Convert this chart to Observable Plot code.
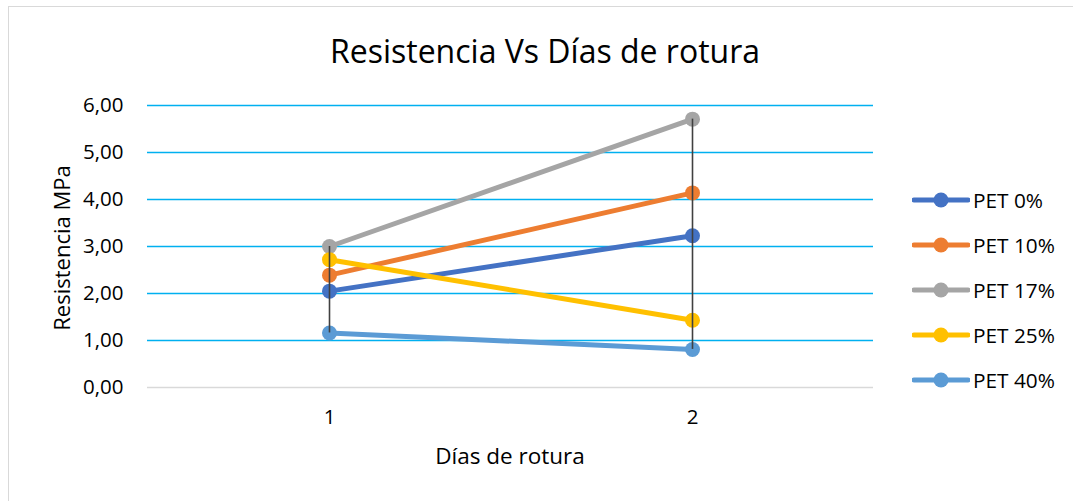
<!DOCTYPE html>
<html><head><meta charset="utf-8">
<script src="https://cdn.jsdelivr.net/npm/d3@7"></script>
<script src="https://cdn.jsdelivr.net/npm/@observablehq/plot@0.6"></script>
<style>
body{margin:0;background:#fff;}
#wrap{position:relative;width:1073px;height:501px;overflow:hidden;font-family:"Open Sans",sans-serif;color:#000;background:#fff}
#border{position:absolute;left:8px;top:6px;width:1100px;height:540px;border:1.5px solid #d9d9d9;box-sizing:border-box}
#plot{position:absolute;left:0;top:0}
.t{position:absolute;white-space:nowrap;line-height:1}
#title{font-size:32px;left:545px;top:35px;transform:translateX(-50%)}
#xlab{font-size:22.5px;left:510px;top:445px;transform:translateX(-50%)}
#ylab{font-size:22px;left:61px;top:248px;transform:translate(-50%,-50%) rotate(-90deg)}
.leg{position:absolute;left:912px;height:20px;display:flex;align-items:center;font-size:20.8px}
.leg svg{margin-right:3px}
</style></head>
<body>
<div id="wrap">
  <div id="border"></div>
  <div id="plot"></div>
  <div class="t" id="title">Resistencia Vs Días de rotura</div>
  <div class="t" id="xlab">Días de rotura</div>
  <div class="t" id="ylab">Resistencia MPa</div>
</div>
<script>
const days = [1, 2];
const seriesNames = ["PET 0%", "PET 10%", "PET 17%", "PET 25%", "PET 40%"];
const seriesColors = ["#4472C4", "#ED7D31", "#A5A5A5", "#FFC000", "#5B9BD5"];
const pet0 = [2.05, 3.23];
const pet10 = [2.39, 4.14];
const pet17 = [3.00, 5.71];
const pet25 = [2.72, 1.43];
const pet40 = [1.16, 0.81];
const yTicks = [0, 1, 2, 3, 4, 5, 6];

const allValues = [pet0, pet10, pet17, pet25, pet40];
const rows = [];
seriesNames.forEach((s, i) => days.forEach((d, j) => rows.push({serie: s, day: d, value: allValues[i][j]})));
const hiLow = days.map((d, j) => ({day: d, hi: d3.max(allValues, v => v[j]), lo: d3.min(allValues, v => v[j])}));
const fmt = v => v.toFixed(2).replace(".", ",");

const chart = Plot.plot({
  width: 1073, height: 501,
  marginLeft: 147, marginRight: 200, marginTop: 105, marginBottom: 114,
  style: {fontFamily: "'Open Sans', sans-serif", fontSize: "20.5px", background: "transparent", color: "#000"},
  x: {type: "point", domain: days, padding: 0.5},
  y: {domain: [0, 6]},
  color: {domain: seriesNames, range: seriesColors},
  marks: [
    Plot.ruleY(yTicks.filter(t => t > 0), {stroke: "#00B0F0", strokeWidth: 1.3}),
    Plot.ruleY([0], {stroke: "#d9d9d9", strokeWidth: 1.5}),
    Plot.axisY({ticks: yTicks, tickFormat: fmt, tickSize: 0, tickPadding: 24, label: null, fill: "#000"}),
    Plot.axisX({tickSize: 0, tickPadding: 22, label: null, fill: "#000"}),
    Plot.line(rows, {x: "day", y: "value", z: "serie", stroke: "serie", strokeWidth: 5, strokeLinecap: "round"}),
    Plot.dot(rows, {x: "day", y: "value", fill: "serie", r: 7.5, stroke: "none"}),
    Plot.ruleX(hiLow, {x: "day", y1: "hi", y2: "lo", stroke: "#404040", strokeWidth: 1.6})
  ]
});
document.getElementById("plot").appendChild(chart);

seriesNames.forEach((s, i) => {
  const el = document.createElement("div");
  el.className = "leg";
  el.style.top = (190 + i * 45) + "px";
  el.innerHTML = `<svg width="58" height="20"><line x1="2" x2="56" y1="10" y2="10" stroke="${seriesColors[i]}" stroke-width="5" stroke-linecap="round"/><circle cx="29" cy="10" r="7.5" fill="${seriesColors[i]}"/></svg><span>${s}</span>`;
  document.getElementById("wrap").appendChild(el);
});
</script>
</body></html>
